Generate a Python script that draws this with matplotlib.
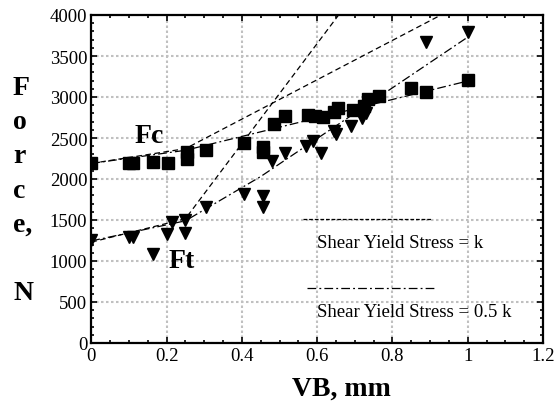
import numpy as np
import matplotlib
matplotlib.use("Agg")
from matplotlib import pyplot as plt

plt.rcParams['font.family'] = ['Liberation Serif', 'DejaVu Serif']

# measured cutting force Fc
fc_vb = [0.0, 0.10, 0.11, 0.165, 0.205, 0.255, 0.255, 0.305, 0.405, 0.455, 0.455,
         0.485, 0.515, 0.575, 0.595, 0.615, 0.645, 0.655, 0.695, 0.725, 0.735,
         0.765, 0.85, 0.89, 1.0]
fc_val = [2190, 2200, 2200, 2210, 2195, 2240, 2330, 2355, 2445, 2330, 2390,
          2665, 2765, 2775, 2765, 2760, 2820, 2870, 2840, 2885, 2975,
          3015, 3105, 3065, 3210]

# measured thrust force Ft
ft_vb = [0.0, 0.10, 0.11, 0.165, 0.20, 0.215, 0.25, 0.25, 0.305, 0.405, 0.455,
         0.455, 0.48, 0.515, 0.57, 0.59, 0.61, 0.645, 0.65, 0.69, 0.72, 0.73,
         0.89, 1.0]
ft_val = [1260, 1290, 1290, 1085, 1330, 1480, 1340, 1505, 1655, 1815, 1655,
          1795, 2225, 2315, 2405, 2465, 2315, 2590, 2550, 2650, 2740, 2810,
          3675, 3790]

# model predictions, shear yield stress = k (dashed)
fc_k_vb = [0.0, 0.25, 0.929]
fc_k_val = [2190, 2370, 4000]
ft_k_vb = [0.0, 0.25, 0.657]
ft_k_val = [1230, 1515, 4000]

# model predictions, shear yield stress = 0.5 k (dash-dot)
fc_h_vb = [0.0, 0.25, 1.0]
fc_h_val = [2190, 2350, 3195]
ft_h_vb = [0.0, 0.25, 0.45, 1.0]
ft_h_val = [1245, 1490, 2030, 3730]

fig = plt.figure(figsize=(5.55, 4.02), dpi=100)
ax = fig.add_axes([91.3/555, 1-344/402, 451.7/555, 328/402])

dash = (0, (4.5, 2.8))
dashdot = (0, (7, 2.5, 1.5, 2.5))

ax.plot(fc_k_vb, fc_k_val, color='k', lw=0.9, linestyle=dash)
ax.plot(ft_k_vb, ft_k_val, color='k', lw=0.9, linestyle=dash)
ax.plot(fc_h_vb, fc_h_val, color='k', lw=0.9, linestyle=dashdot)
ax.plot(ft_h_vb, ft_h_val, color='k', lw=0.9, linestyle=dashdot)

ax.plot(fc_vb, fc_val, 's', color='k', ms=8, mec='k')
ax.plot(ft_vb, ft_val, 'v', color='k', ms=8, mec='k')

ax.set_xlim(0, 1.2)
ax.set_ylim(0, 4000)
ax.set_xticks(np.arange(0, 1.21, 0.2))
ax.set_xticklabels(['0', '0.2', '0.4', '0.6', '0.8', '1', '1.2'])
ax.set_yticks(np.arange(0, 4001, 500))
ax.set_xticks(np.arange(0, 1.21, 0.05), minor=True)
ax.set_yticks(np.arange(0, 4001, 100), minor=True)
ax.tick_params(which='both', direction='in', top=True, right=True, labelsize=13.5, width=1.2)
ax.tick_params(which='major', length=4, pad=3)
ax.tick_params(which='minor', length=2)
ax.grid(True, which='major', color='#c0c0c0', linestyle=(0, (1.2, 1.2)), linewidth=1.5)
ax.set_axisbelow(True)
for sp in ax.spines.values():
    sp.set_linewidth(1.6)

# labels on the curves
ax.text(0.095, 0.613, 'Fc', transform=ax.transAxes, fontsize=20, fontweight='bold')
ax.text(0.170, 0.232, 'Ft', transform=ax.transAxes, fontsize=20, fontweight='bold')

# legend drawn by hand
ax.plot([0.469, 0.754], [0.378, 0.378], color='k', lw=0.9, linestyle=(0, (3, 1.5)), transform=ax.transAxes)
ax.text(0.50, 0.293, 'Shear Yield Stress = k', transform=ax.transAxes, fontsize=13.5)
ax.plot([0.478, 0.761], [0.168, 0.168], color='k', lw=0.9, linestyle=dashdot, transform=ax.transAxes)
ax.text(0.50, 0.082, 'Shear Yield Stress = 0.5 k', transform=ax.transAxes, fontsize=13.5)

# stacked y label
for i, ch in enumerate(['F', 'o', 'r', 'c', 'e,', '', 'N']):
    if ch:
        fig.text(13/555, 1-(95 + 34.2*i)/402, ch, fontsize=20, fontweight='bold', ha='left', va='baseline')

fig.text(341.5/555, 1-396/402, 'VB, mm', fontsize=20, fontweight='bold', ha='center', va='baseline')

plt.savefig('out.png', dpi=100)
